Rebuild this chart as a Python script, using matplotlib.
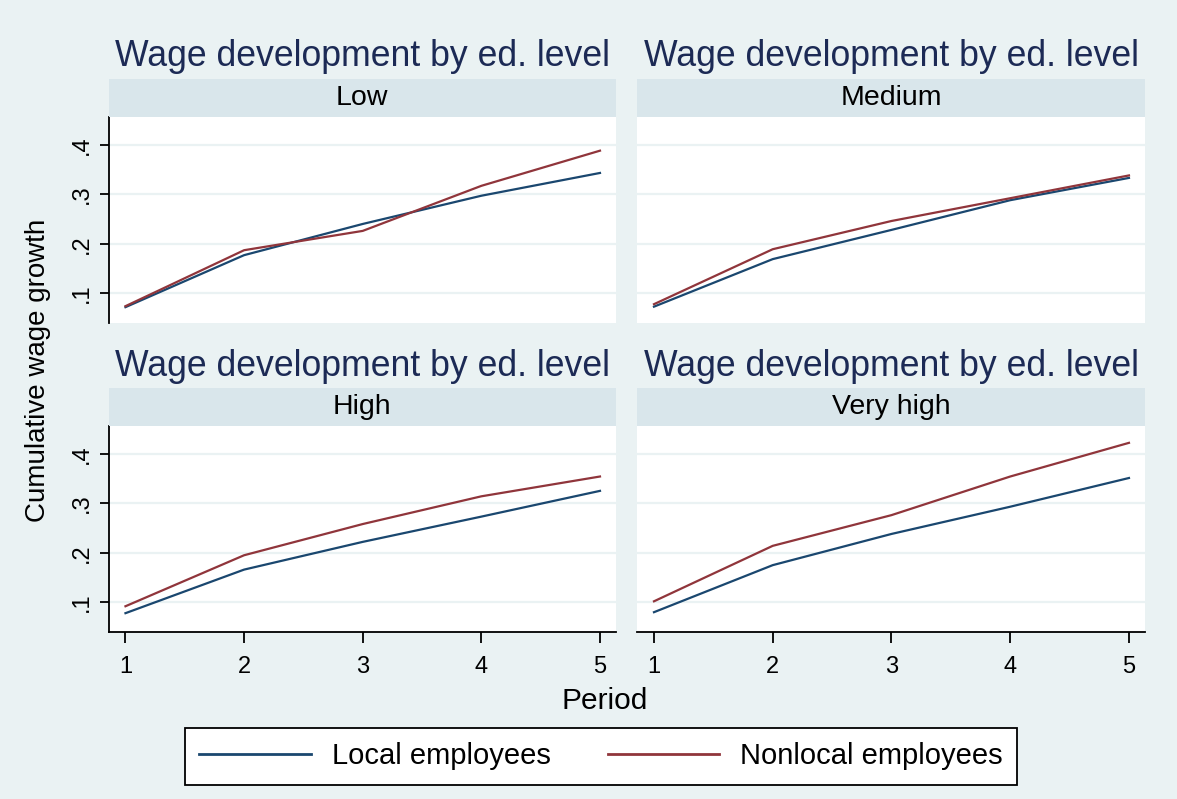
# Wage development by education level, Stata s2color style
import matplotlib.pyplot as plt
from matplotlib.lines import Line2D

plt.rcParams["font.family"] = ["Liberation Sans", "DejaVu Sans"]

# data
periods = [1, 2, 3, 4, 5]
levels = ["Low", "Medium", "High", "Very high"]
local = {
    "Low": [0.072, 0.177, 0.240, 0.297, 0.343],
    "Medium": [0.073, 0.169, 0.228, 0.288, 0.333],
    "High": [0.078, 0.166, 0.222, 0.273, 0.325],
    "Very high": [0.080, 0.175, 0.238, 0.293, 0.351],
}
nonlocal_ = {
    "Low": [0.074, 0.187, 0.226, 0.317, 0.388],
    "Medium": [0.078, 0.189, 0.246, 0.292, 0.338],
    "High": [0.092, 0.195, 0.258, 0.314, 0.354],
    "Very high": [0.102, 0.214, 0.276, 0.354, 0.422],
}
yticks = [0.1, 0.2, 0.3, 0.4]
yticklabels = [".1", ".2", ".3", ".4"]

# colours
bg = "#EAF2F3"
strip_col = "#D9E6EB"
navy = "#1A476F"
maroon = "#90353B"
title_col = "#1C2A55"

W, H = 1177, 799
fig = plt.figure(figsize=(W / 100, H / 100), dpi=100, facecolor=bg)


def px_rect(x0, y0, x1, y1):
    # pixel box (top-left origin) -> figure fraction
    return [x0 / W, 1 - y1 / H, (x1 - x0) / W, (y1 - y0) / H]


cols = [(108.5, 616), (637, 1145)]
rows = [(117, 323), (426, 632)]
strips = [(79, 117), (388, 426)]
titles_y = [57, 366]

for i, lev in enumerate(levels):
    r, c = divmod(i, 2)
    x0, x1 = cols[c]
    y0, y1 = rows[r]
    ax = fig.add_axes(px_rect(x0, y0, x1, y1))
    ax.set_facecolor("white")
    ax.plot(periods, local[lev], color=navy, lw=1.6, solid_joinstyle="round")
    ax.plot(periods, nonlocal_[lev], color=maroon, lw=1.6, solid_joinstyle="round")
    ax.set_xlim(0.857, 5.135)
    ax.set_ylim(0.04, 0.456)
    ax.set_yticks(yticks)
    ax.set_xticks(periods)
    ax.grid(axis="y", color=bg, lw=1.6)
    ax.set_axisbelow(True)
    for s in ["top", "right"]:
        ax.spines[s].set_visible(False)
    ax.spines["left"].set_visible(c == 0)
    ax.spines["bottom"].set_visible(r == 1)
    ax.spines["left"].set_linewidth(1.3)
    ax.spines["bottom"].set_linewidth(1.3)
    if c == 0:
        ax.set_yticklabels(yticklabels, rotation=90, va="center", fontsize=17)
        ax.tick_params(axis="y", length=6.5, width=1.3, pad=5)
    else:
        ax.tick_params(axis="y", length=0, labelleft=False)
    if r == 1:
        ax.set_xticklabels([str(p) for p in periods], fontsize=17)
        ax.tick_params(axis="x", length=8, width=1.3, pad=9)
    else:
        ax.tick_params(axis="x", length=0, labelbottom=False)

    # strip with level name
    sy0, sy1 = strips[r]
    sax = fig.add_axes(px_rect(x0, sy0, x1, sy1))
    sax.set_facecolor(strip_col)
    sax.set_xticks([])
    sax.set_yticks([])
    for s in sax.spines.values():
        s.set_visible(False)
    sax.text(0.5, 0.5, lev, ha="center", va="center", fontsize=20.5, transform=sax.transAxes)

    # panel title
    fig.text((x0 + x1) / 2 / W, 1 - titles_y[r] / H, "Wage development by ed. level",
             ha="center", va="center", fontsize=25.7, color=title_col)

# axis titles
fig.text(38 / W, 1 - 370 / H, "Cumulative wage growth", rotation=90,
         ha="center", va="center", fontsize=20)
fig.text(605 / W, 1 - 701 / H, "Period", ha="center", va="center", fontsize=21.5)

# legend
handles = [Line2D([], [], color=navy, lw=2), Line2D([], [], color=maroon, lw=2)]
leg = fig.legend(handles, ["Local employees", "Nonlocal employees"],
                 loc="center", bbox_to_anchor=(601 / W, 1 - 756.5 / H), ncol=2,
                 fontsize=21, frameon=True, fancybox=False, edgecolor="black",
                 framealpha=1, handlelength=3.83, handletextpad=0.72,
                 columnspacing=1.95, borderpad=0.5, borderaxespad=0)
leg.get_frame().set_linewidth(1.3)

fig.savefig("out.png", dpi=100, facecolor=bg)
